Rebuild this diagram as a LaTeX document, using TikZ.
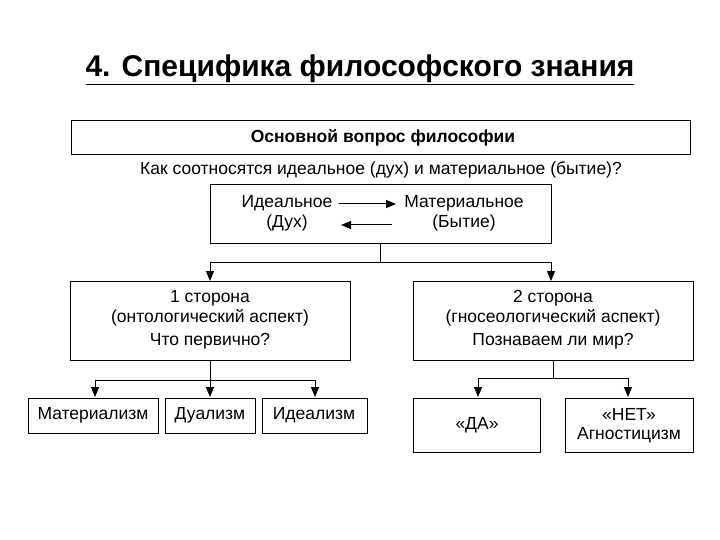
\documentclass[tikz,border=0pt]{standalone}
\usepackage{fontspec}
\setmainfont{Liberation Sans}
\usetikzlibrary{arrows.meta}
\begin{document}
\begin{tikzpicture}[x=1pt,y=-1pt,
  box/.style={draw,line width=1pt,inner sep=0pt},
  txt/.style={font=\fontsize{17.5}{20}\selectfont,inner sep=0pt},
  arr/.style={line width=1pt,-{Triangle[width=8pt,length=10pt]}},
  ln/.style={line width=1pt}]
\useasboundingbox (0,0) rectangle (720,540);
\node[font=\bfseries\fontsize{30}{34}\selectfont,inner sep=0pt] (title) at (360,70) {\underline{4. Специфика философского знания}};
% top
\draw[box] (71,121) rectangle (690,155);
\node[txt,font=\bfseries\fontsize{17.5}{20}\selectfont] (osn) at (383,138) {Основной вопрос философии};
\node[txt] (q) at (381,170) {Как соотносятся идеальное (дух) и материальное (бытие)?};
% middle
\draw[box] (210,185) rectangle (551,243);
\coordinate (mb) at (380,243);
\node[txt] (id) at (287,203) {Идеальное};
\node[txt] (id2) at (287,223) {(Дух)};
\node[txt] (mat) at (464,203) {Материальное};
\node[txt] (mat2) at (464,223) {(Бытие)};
\coordinate (r1) at (339,204); \coordinate (r2) at (396,204);
\coordinate (l1) at (392,225); \coordinate (l2) at (341,225);
\draw[arr] (r1) -- (r2);
\draw[arr] (l1) -- (l2);
% sides
\draw[box] (70,281) rectangle (350,360);
\node[txt] (s1a) at (210,298) {1 сторона};
\node[txt] (s1b) at (210,318) {(онтологический аспект)};
\node[txt] (s1c) at (210,341) {Что первично?};
\draw[box] (413,281) rectangle (693,360);
\node[txt] (s2a) at (553,298) {2 сторона};
\node[txt] (s2b) at (553,318) {(гносеологический аспект)};
\node[txt] (s2c) at (553,341) {Познаваем ли мир?};
\coordinate (j0) at (380,262);
\coordinate (ja) at (210,262); \coordinate (jb) at (551,262);
\coordinate (ta) at (210,281); \coordinate (tb) at (551,281);
\draw[ln] (mb) -- (j0);
\draw[ln] (ja) -- (jb);
\draw[arr] (ja) -- (ta);
\draw[arr] (jb) -- (tb);
% bottom left
\draw[box] (28,398) rectangle (158,433);
\node[txt] (m) at (93,415) {Материализм};
\draw[box] (165,398) rectangle (255,433);
\node[txt] (d) at (210,415) {Дуализм};
\draw[box] (262,398) rectangle (367,433);
\node[txt] (i) at (314,415) {Идеализм};
\coordinate (lb) at (210,360); \coordinate (lj) at (210,380);
\coordinate (lj1) at (95,380); \coordinate (lj3) at (315,380);
\draw[ln] (lb) -- (lj);
\draw[ln] (lj1) -- (lj3);
\draw[arr] (lj1) -- (95,397);
\draw[arr] (lj) -- (210,397);
\draw[arr] (lj3) -- (315,397);
% bottom right
\draw[box] (413,398) rectangle (540,452);
\node[txt] (da) at (477,425) {«ДА»};
\draw[box] (565,398) rectangle (693,452);
\node[txt] (net1) at (629,414) {«НЕТ»};
\node[txt] (net2) at (629,435) {Агностицизм};
\coordinate (rb) at (553,360); \coordinate (rj) at (553,378);
\coordinate (rj1) at (478,378); \coordinate (rj2) at (628,378);
\draw[ln] (rb) -- (rj);
\draw[ln] (rj1) -- (rj2);
\draw[arr] (rj1) -- (478,397);
\draw[arr] (rj2) -- (628,397);
\end{tikzpicture}
\end{document}
